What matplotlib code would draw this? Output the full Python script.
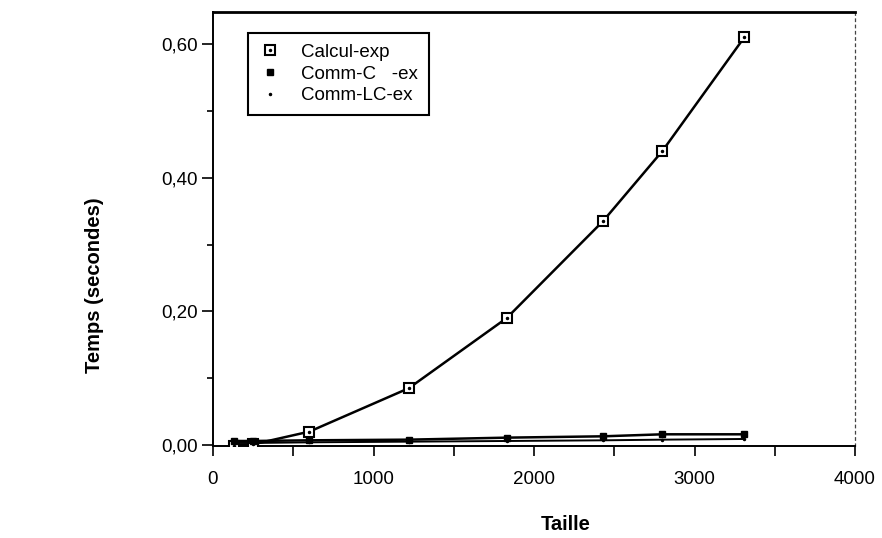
import matplotlib
matplotlib.use("Agg")
import matplotlib.pyplot as plt
from matplotlib.legend_handler import HandlerTuple
from matplotlib.ticker import MultipleLocator, FuncFormatter

plt.rcParams['font.family'] = ['Liberation Sans', 'DejaVu Sans']

taille = [130, 250, 600, 1220, 1830, 2430, 2800, 3310]
calcul_exp = [-0.001, 0.001, 0.020, 0.085, 0.190, 0.335, 0.440, 0.610]
comm_c_ex = [0.006, 0.006, 0.007, 0.008, 0.011, 0.013, 0.016, 0.016]
comm_lc_ex = [0.003, 0.003, 0.004, 0.005, 0.006, 0.007, 0.008, 0.009]

x_label = "Taille"
y_label = "Temps (secondes)"
series_names = ["Calcul-exp", "Comm-C   -ex", "Comm-LC-ex"]

fig = plt.figure(figsize=(8.82, 5.38), dpi=100)
ax = fig.add_axes([213 / 882, 1 - 446 / 538, 642 / 882, 434 / 538])

ax.plot(taille, calcul_exp, color='black', lw=1.8, marker='s', ms=7,
        mfc='white', mec='black', mew=1.5, zorder=3)
ax.plot(taille, calcul_exp, ls='none', marker='.', ms=3, color='black', zorder=4)
ax.plot(taille, comm_c_ex, color='black', lw=1.8, marker='s', ms=4,
        mfc='black', mec='black', zorder=3)
ax.plot(taille, comm_lc_ex, color='black', lw=1.4, marker='.', ms=3, zorder=3)

ax.set_xlim(0, 4000)
ax.set_ylim(-0.0015, 0.648)
ax.xaxis.set_major_locator(MultipleLocator(1000))
ax.xaxis.set_minor_locator(MultipleLocator(500))
ax.yaxis.set_major_locator(MultipleLocator(0.2))
ax.yaxis.set_minor_locator(MultipleLocator(0.1))
ax.yaxis.set_major_formatter(FuncFormatter(lambda v, p: f"{v:.2f}".replace('.', ',')))
ax.tick_params(which='both', direction='out', width=1.2, labelsize=13.5)
ax.tick_params(axis='x', which='both', length=7, pad=11)
ax.tick_params(axis='y', which='major', length=8, pad=3)
ax.tick_params(axis='y', which='minor', length=4)

for s in ['left', 'bottom']:
    ax.spines[s].set_linewidth(1.4)
ax.spines['top'].set_linewidth(2)
ax.spines['right'].set_linewidth(0.9)
ax.spines['right'].set_linestyle((0, (2, 3)))
ax.spines['right'].set_color('#444444')

ax.set_xlabel(x_label, fontsize=14.5, fontweight='bold', va='top')
ax.xaxis.set_label_coords(0.55, -0.158)
ax.set_ylabel(y_label, fontsize=14.5, fontweight='bold')
ax.yaxis.set_label_coords(-0.170, 0.371)

m1, = ax.plot([], [], ls='none', marker='s', ms=7, mfc='white', mec='black', mew=1.5)
m1d, = ax.plot([], [], ls='none', marker='.', ms=3, color='black')
m2, = ax.plot([], [], ls='none', marker='s', ms=4, color='black')
m3, = ax.plot([], [], ls='none', marker='.', ms=3, color='black')
leg = ax.legend([(m1, m1d), m2, m3], series_names,
                handler_map={tuple: HandlerTuple(ndivide=1, pad=0)},
                loc='upper left', bbox_to_anchor=(0.0545, 0.951), borderaxespad=0,
                fontsize=13.5, fancybox=False, framealpha=1, edgecolor='black',
                handlelength=1.2, handletextpad=1.1, borderpad=0.55,
                labelspacing=0.25)
leg.get_frame().set_linewidth(1.5)

fig.savefig("out.png", dpi=100)
